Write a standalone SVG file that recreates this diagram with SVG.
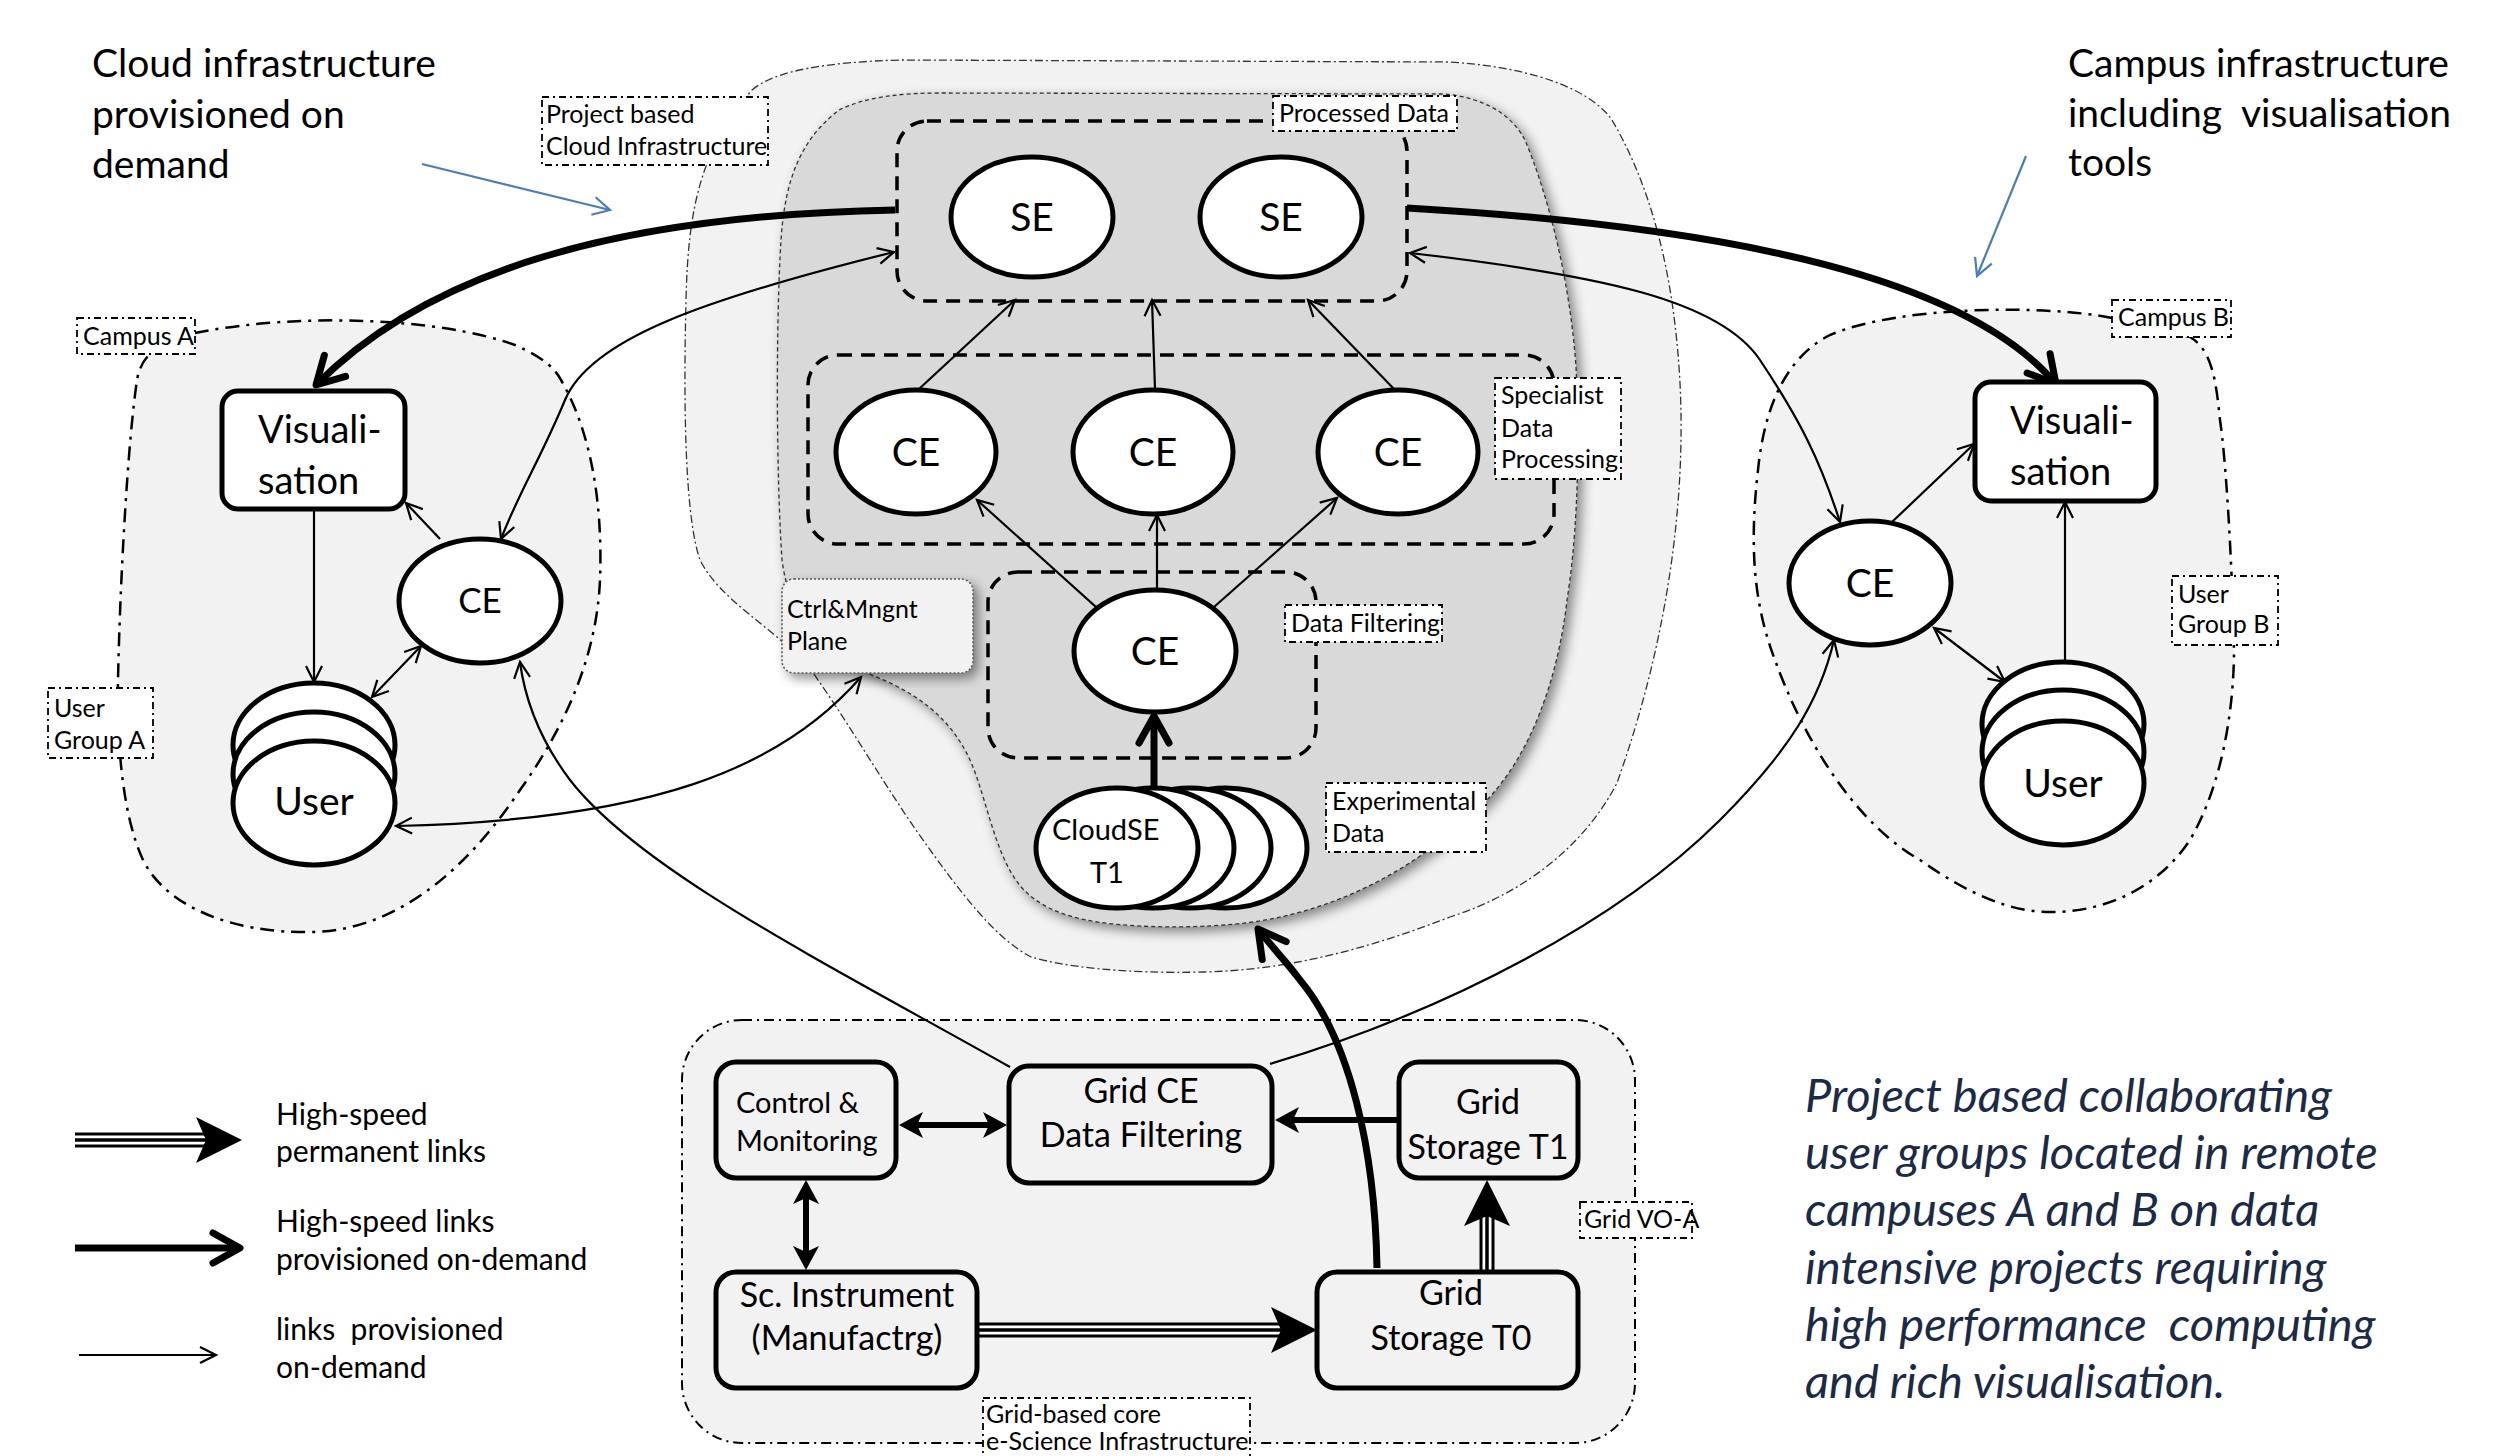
<svg xmlns="http://www.w3.org/2000/svg" width="2517" height="1456" viewBox="0 0 2517 1456">
<style>
text{font-family:Lato,"Liberation Sans",sans-serif;fill:#000}
.node{fill:#fff;stroke:#000;stroke-width:5}
.box{fill:#fff;stroke:#000;stroke-width:5}
.gbox{fill:#f2f2f2;stroke:#000;stroke-width:5}
.grp{fill:none;stroke:#000;stroke-width:3.5;stroke-dasharray:14 9}
.lbl{fill:#fff;stroke:#000;stroke-width:1.8;stroke-dasharray:7 4 2 4}
.region{fill:#f2f2f2;stroke:#000;stroke-width:2.5;stroke-dasharray:14 7 3 7}
.thin{fill:none;stroke:#000;stroke-width:2.2}
.thick{fill:none;stroke:#000;stroke-width:7}
.hs{fill:none;stroke:#000;stroke-width:6}
.blue{fill:none;stroke:#4a7ebb;stroke-width:2.2}
.t-lbl{font-size:25px}
.t-node{font-size:39px;text-anchor:middle}
.t-grid{font-size:34px;text-anchor:middle}
.t-ann{font-size:39px}
.t-leg{font-size:30px}
.t-it{font-size:47px;font-style:italic;fill:#1b2a47}
</style>
<defs>
<marker id="ah-thin" viewBox="-20 -12 24 24" refX="0" refY="0" markerWidth="24" markerHeight="24" markerUnits="userSpaceOnUse" orient="auto-start-reverse">
<path d="M-16,-8 L0,0 L-16,8" fill="none" stroke="#000" stroke-width="2.2"/>
</marker>
<marker id="ah-blue" viewBox="-20 -12 24 24" refX="0" refY="0" markerWidth="24" markerHeight="24" markerUnits="userSpaceOnUse" orient="auto">
<path d="M-17,-9 L0,0 L-17,9" fill="none" stroke="#4a7ebb" stroke-width="2.2"/>
</marker>
<marker id="ah-thick" viewBox="-36 -22 42 44" refX="0" refY="0" markerWidth="42" markerHeight="44" markerUnits="userSpaceOnUse" orient="auto">
<path d="M-27,-15 L0,0 L-27,15" fill="none" stroke="#000" stroke-width="7" stroke-linecap="round" stroke-linejoin="round"/>
</marker>
<marker id="ah-fill" viewBox="-28 -16 32 32" refX="-14" refY="0" markerWidth="32" markerHeight="32" markerUnits="userSpaceOnUse" orient="auto-start-reverse">
<path d="M0,0 L-24,-13 L-18,0 L-24,13 Z" fill="#000"/>
</marker>
<marker id="ah-big" viewBox="-50 -26 54 52" refX="-30" refY="0" markerWidth="54" markerHeight="52" markerUnits="userSpaceOnUse" orient="auto">
<path d="M0,0 L-46,-23 L-36,0 L-46,23 Z" fill="#000"/>
</marker>
<filter id="shadow" x="-10%" y="-10%" width="125%" height="125%">
<feDropShadow dx="5" dy="5" stdDeviation="6" flood-color="#000" flood-opacity="0.45"/>
</filter>
</defs>
<rect width="2517" height="1456" fill="#fff"/>

<g id="regions">
<path id="cloud-outer" d="M752,90 C775,70 830,62 900,60 L1450,62 C1545,68 1595,95 1612,120 C1650,185 1674,270 1680,383 C1686,500 1668,640 1617,783 C1585,845 1525,893 1450,917 C1370,948 1290,970 1204,972 C1120,974 1062,966 1031,957 C995,938 962,895 918,833 C880,778 848,722 809,667 C770,625 720,600 700,560 C686,520 683,420 686,300 C688,210 700,150 752,90 Z" fill="#f2f2f2" stroke="#333" stroke-width="1.3" stroke-dasharray="8 3 2 3"/>
<path id="cloud-inner" d="M839,110 C865,97 900,93 940,93 L1445,94 C1485,98 1512,115 1525,140 C1548,195 1570,280 1576,367 C1581,470 1575,550 1567,600 C1558,680 1530,755 1487,800 C1420,868 1330,918 1224,925 C1170,929 1125,926 1097,922 C1060,916 1038,905 1022,888 C998,860 990,815 976,775 C962,735 935,700 874,676 C820,652 790,620 782,560 C776,470 776,320 781,240 C785,180 800,140 839,110 Z" fill="#d9d9d9" stroke="#333" stroke-width="1.3" stroke-dasharray="4 3" filter="url(#shadow)"/>
<path id="campus-a" class="region" d="M195,333 C300,312 440,318 515,345 C545,358 556,370 561,380 C590,430 603,500 600,580 C597,650 570,720 520,790 C470,865 400,930 313,932 C230,934 165,905 143,860 C120,810 117,730 118,680 C120,580 128,440 137,380 C140,362 150,350 165,345 Z"/>
<path id="campus-b" class="region" d="M2112,318 C2050,305 1900,305 1830,335 C1790,355 1765,400 1758,470 C1750,540 1752,600 1775,660 C1800,730 1850,820 1920,860 C1970,895 2010,912 2051,912 C2110,912 2160,885 2190,840 C2225,780 2234,700 2234,650 C2232,560 2226,460 2220,420 C2216,380 2212,350 2190,337 Z"/>
<rect id="grid-region" x="682" y="1020" width="953" height="423" rx="60" fill="#f2f2f2" stroke="#000" stroke-width="2" stroke-dasharray="10 5 2 5"/>
<rect id="grp-processed" class="grp" x="897" y="121" width="510" height="180" rx="30"/>
<rect id="grp-specialist" class="grp" x="808" y="355" width="746" height="189" rx="30"/>
<rect id="grp-filter" class="grp" x="988" y="572" width="328" height="186" rx="30"/>
</g>

<g id="connectors">
<path class="thick" d="M895,210 C620,215 430,270 316,385" marker-end="url(#ah-thick)"/>
<path class="thick" d="M1407,208 C1700,225 1960,270 2056,384" marker-end="url(#ah-thick)"/>
<path class="thin" d="M894,252 C700,300 590,340 565,400 C540,460 520,490 501,539" marker-start="url(#ah-thin)" marker-end="url(#ah-thin)"/>
<path class="thin" d="M1410,253 C1600,275 1720,300 1760,360 C1800,420 1820,460 1840,522" marker-start="url(#ah-thin)" marker-end="url(#ah-thin)"/>
<path class="thin" d="M861,677 C780,770 650,820 396,826" marker-start="url(#ah-thin)" marker-end="url(#ah-thin)"/>
<path class="thin" d="M1010,1067 C820,960 640,870 570,780 C540,740 525,700 520,662" marker-end="url(#ah-thin)"/>
<path class="thin" d="M1270,1064 C1450,1010 1620,920 1720,820 C1790,750 1820,700 1834,640" marker-end="url(#ah-thin)"/>
<path class="thick" d="M1377,1268 C1375,1150 1350,1040 1300,980 C1285,960 1270,945 1258,929" marker-end="url(#ah-thick)"/>
<path class="thick" d="M1154,788 L1154,716" marker-end="url(#ah-thick)"/>
<path class="thin" d="M1096,607 L977,500" marker-end="url(#ah-thin)"/>
<path class="thin" d="M1157,590 L1157,515" marker-end="url(#ah-thin)"/>
<path class="thin" d="M1214,607 L1337,498" marker-end="url(#ah-thin)"/>
<path class="thin" d="M919,389 L1015,300" marker-end="url(#ah-thin)"/>
<path class="thin" d="M1155,389 L1152,300" marker-end="url(#ah-thin)"/>
<path class="thin" d="M1394,389 L1308,300" marker-end="url(#ah-thin)"/>
<path class="thin" d="M440,539 L406,503" marker-end="url(#ah-thin)"/>
<path class="thin" d="M314,509 L314,682" marker-end="url(#ah-thin)"/>
<path class="thin" d="M421,646 L372,697" marker-start="url(#ah-thin)" marker-end="url(#ah-thin)"/>
<path class="thin" d="M1892,522 L1974,444" marker-end="url(#ah-thin)"/>
<path class="thin" d="M2065,661 L2065,502" marker-end="url(#ah-thin)"/>
<path class="thin" d="M1934,628 L2005,682" marker-start="url(#ah-thin)" marker-end="url(#ah-thin)"/>
<path class="hs" d="M913,1125 L993,1125" marker-start="url(#ah-fill)" marker-end="url(#ah-fill)"/>
<path class="hs" d="M1399,1120 L1289,1120" marker-end="url(#ah-fill)"/>
<path class="hs" d="M806,1194 L806,1256" marker-start="url(#ah-fill)" marker-end="url(#ah-fill)"/>
<g id="perm-1">
<path d="M979,1330 L1287,1330" stroke="#000" stroke-width="15" fill="none"/>
<path d="M979,1330 L1287,1330" stroke="#fff" stroke-width="9" fill="none"/>
<path d="M979,1330 L1287,1330" stroke="#000" stroke-width="3.5" fill="none" marker-end="url(#ah-big)"/>
</g>
<g id="perm-2">
<path d="M1487,1270 L1487,1210" stroke="#000" stroke-width="15" fill="none"/>
<path d="M1487,1270 L1487,1210" stroke="#fff" stroke-width="9" fill="none"/>
<path d="M1487,1270 L1487,1210" stroke="#000" stroke-width="3.5" fill="none" marker-end="url(#ah-big)"/>
</g>
<path class="blue" d="M422,164 L610,210" marker-end="url(#ah-blue)"/>
<path class="blue" d="M2026,156 L1977,276" marker-end="url(#ah-blue)"/>
</g>

<g id="se1"><ellipse class="node" cx="1032" cy="217" rx="81" ry="60"/><text class="t-node" x="1032" y="231">SE</text></g>
<g id="se2"><ellipse class="node" cx="1281" cy="217" rx="81" ry="60"/><text class="t-node" x="1281" y="231">SE</text></g>
<g id="ce1"><ellipse class="node" cx="916" cy="452" rx="80" ry="62"/><text class="t-node" x="916" y="466">CE</text></g>
<g id="ce2"><ellipse class="node" cx="1153" cy="452" rx="80" ry="62"/><text class="t-node" x="1153" y="466">CE</text></g>
<g id="ce3"><ellipse class="node" cx="1398" cy="452" rx="80" ry="62"/><text class="t-node" x="1398" y="466">CE</text></g>
<g id="ce-filter"><ellipse class="node" cx="1155" cy="651" rx="81" ry="61"/><text class="t-node" x="1155" y="665">CE</text></g>
<g id="cloudse">
<ellipse class="node" cx="1226" cy="848" rx="81" ry="60"/>
<ellipse class="node" cx="1190" cy="848" rx="81" ry="60"/>
<ellipse class="node" cx="1153" cy="848" rx="81" ry="60"/>
<ellipse class="node" cx="1117" cy="848" rx="81" ry="60"/>
<text x="1052" y="840" style="font-size:29px">CloudSE</text>
<text x="1090" y="883" style="font-size:29px">T1</text>
</g>
<g id="ctrl-plane">
<rect x="782" y="579" width="191" height="94" rx="12" fill="#f2f2f2" stroke="#555" stroke-width="1.5" stroke-dasharray="2 2" filter="url(#shadow)"/>
<text class="t-lbl" x="787" y="618">Ctrl&amp;Mngnt</text>
<text class="t-lbl" x="787" y="650">Plane</text>
</g>
<g id="vis-a"><rect class="box" x="222" y="391" width="183" height="118" rx="16"/><text x="258" y="443" style="font-size:38px">Visuali-</text><text x="258" y="494" style="font-size:38px">sation</text></g>
<g id="ce-a"><ellipse class="node" cx="480" cy="601" rx="81" ry="62"/><text class="t-node" x="480" y="613" style="font-size:35px">CE</text></g>
<g id="user-a">
<ellipse class="node" cx="314" cy="745" rx="81" ry="62"/>
<ellipse class="node" cx="314" cy="774" rx="81" ry="62"/>
<ellipse class="node" cx="314" cy="803" rx="81" ry="62"/>
<text class="t-node" x="314" y="815">User</text>
</g>
<g id="vis-b"><rect class="box" x="1975" y="382" width="181" height="119" rx="16"/><text x="2010" y="434" style="font-size:38px">Visuali-</text><text x="2010" y="485" style="font-size:38px">sation</text></g>
<g id="ce-b"><ellipse class="node" cx="1870" cy="583" rx="81" ry="62"/><text class="t-node" x="1870" y="597">CE</text></g>
<g id="user-b">
<ellipse class="node" cx="2063" cy="724" rx="81" ry="62"/>
<ellipse class="node" cx="2063" cy="752" rx="81" ry="62"/>
<ellipse class="node" cx="2063" cy="783" rx="81" ry="62"/>
<text class="t-node" x="2063" y="797">User</text>
</g>
<g id="control-monitoring"><rect class="gbox" x="716" y="1062" width="180" height="116" rx="20"/><text x="736" y="1113" style="font-size:29px">Control &amp;</text><text x="736" y="1151" style="font-size:29px">Monitoring</text></g>
<g id="grid-ce"><rect class="gbox" x="1009" y="1066" width="263" height="117" rx="20"/><text class="t-grid" x="1141" y="1103">Grid CE</text><text class="t-grid" x="1141" y="1147">Data Filtering</text></g>
<g id="grid-t1"><rect class="gbox" x="1399" y="1062" width="179" height="116" rx="20"/><text class="t-grid" x="1488" y="1114">Grid</text><text class="t-grid" x="1488" y="1159">Storage T1</text></g>
<g id="sc-instrument"><rect class="gbox" x="716" y="1272" width="261" height="116" rx="20"/><text class="t-grid" x="847" y="1307">Sc. Instrument</text><text class="t-grid" x="847" y="1350">(Manufactrg)</text></g>
<g id="grid-t0"><rect class="gbox" x="1317" y="1272" width="261" height="116" rx="20"/><text class="t-grid" x="1451" y="1305">Grid</text><text class="t-grid" x="1451" y="1350">Storage T0</text></g>

<g id="labels">
<rect class="lbl" x="542" y="97" width="226" height="68"/><text class="t-lbl" x="546" y="123">Project based</text><text class="t-lbl" x="546" y="155">Cloud Infrastructure</text>
<rect class="lbl" x="1273" y="96" width="184" height="35"/><text class="t-lbl" x="1279" y="122">Processed Data</text>
<rect class="lbl" x="1495" y="378" width="126" height="101"/><text class="t-lbl" x="1501" y="404">Specialist</text><text class="t-lbl" x="1501" y="437">Data</text><text class="t-lbl" x="1501" y="468">Processing</text>
<rect class="lbl" x="1285" y="605" width="157" height="37"/><text class="t-lbl" x="1291" y="632">Data Filtering</text>
<rect class="lbl" x="1326" y="783" width="160" height="69"/><text class="t-lbl" x="1332" y="810">Experimental</text><text class="t-lbl" x="1332" y="842">Data</text>
<rect class="lbl" x="77" y="318" width="118" height="36"/><text class="t-lbl" x="83" y="345">Campus A</text>
<rect class="lbl" x="48" y="688" width="105" height="70"/><text class="t-lbl" x="54" y="717">User</text><text class="t-lbl" x="54" y="749">Group A</text>
<rect class="lbl" x="2112" y="300" width="119" height="37"/><text class="t-lbl" x="2118" y="326">Campus B</text>
<rect class="lbl" x="2172" y="576" width="106" height="69"/><text class="t-lbl" x="2178" y="603">User</text><text class="t-lbl" x="2178" y="633">Group B</text>
<rect class="lbl" x="1580" y="1202" width="112" height="36"/><text class="t-lbl" x="1584" y="1228">Grid VO-A</text>
<rect class="lbl" x="983" y="1398" width="267" height="72"/><text class="t-lbl" x="986" y="1423">Grid-based core</text><text class="t-lbl" x="986" y="1450">e-Science Infrastructure</text>
</g>

<g id="annotations">
<text class="t-ann" x="92" y="77">Cloud infrastructure</text>
<text class="t-ann" x="92" y="128">provisioned on</text>
<text class="t-ann" x="92" y="178">demand</text>
<text class="t-ann" x="2068" y="77">Campus infrastructure</text>
<text class="t-ann" x="2068" y="127" xml:space="preserve">including  visualisation</text>
<text class="t-ann" x="2068" y="176">tools</text>
<text class="t-it" x="1805" y="1112">Project based collaborating</text>
<text class="t-it" x="1805" y="1169">user groups located in remote</text>
<text class="t-it" x="1805" y="1226">campuses A and B on data</text>
<text class="t-it" x="1805" y="1284">intensive projects requiring</text>
<text class="t-it" x="1805" y="1341" xml:space="preserve">high performance  computing</text>
<text class="t-it" x="1805" y="1398">and rich visualisation.</text>
</g>

<g id="legend">
<path d="M75,1140 L212,1140" stroke="#000" stroke-width="15" fill="none"/>
<path d="M75,1140 L212,1140" stroke="#fff" stroke-width="9" fill="none"/>
<path d="M75,1140 L212,1140" stroke="#000" stroke-width="3.5" fill="none" marker-end="url(#ah-big)"/>
<path class="thick" d="M75,1248 L240,1248" stroke-width="9" marker-end="url(#ah-thick)"/>
<path class="thin" d="M79,1355 L216,1355" marker-end="url(#ah-thin)"/>
<text class="t-leg" x="276" y="1125">High-speed</text>
<text class="t-leg" x="276" y="1162">permanent links</text>
<text class="t-leg" x="276" y="1232">High-speed links</text>
<text class="t-leg" x="276" y="1270">provisioned on-demand</text>
<text class="t-leg" x="276" y="1340" xml:space="preserve">links  provisioned</text>
<text class="t-leg" x="276" y="1378">on-demand</text>
</g>
</svg>
